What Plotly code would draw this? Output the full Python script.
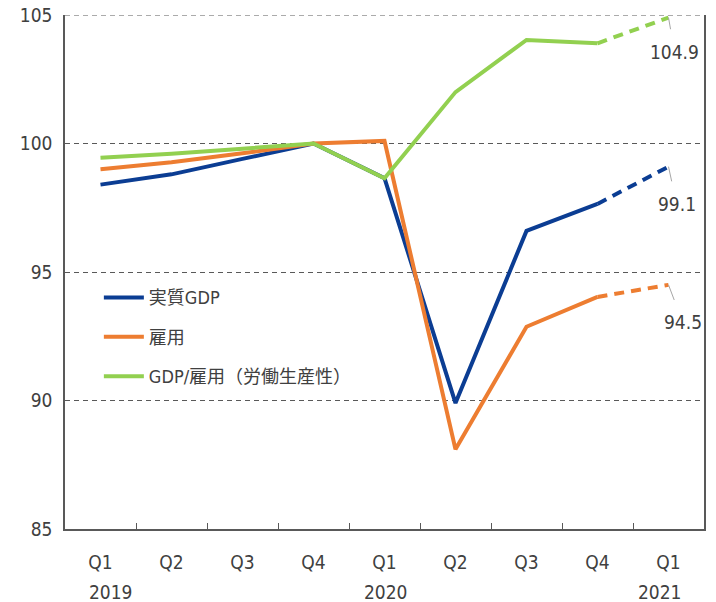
import plotly.graph_objects as go

categories = ["2019Q1", "2019Q2", "2019Q3", "2019Q4", "2020Q1", "2020Q2", "2020Q3", "2020Q4", "2021Q1"]
tick_labels = ["Q1", "Q2", "Q3", "Q4", "Q1", "Q2", "Q3", "Q4", "Q1"]
year_labels = {"2019Q1": "2019", "2020Q1": "2020", "2021Q1": "2021"}

gdp = [98.4, 98.8, 99.4, 100.0, 98.65, 89.9, 96.6, 97.65, 99.1]
employment = [99.0, 99.27, 99.62, 100.0, 100.1, 88.1, 92.87, 94.03, 94.5]
productivity = [99.45, 99.6, 99.8, 100.0, 98.65, 102.0, 104.03, 103.9, 104.9]

y_min, y_max = 85, 105

names = ["実質GDP", "雇用", "GDP/雇用（労働生産性）"]
colors = ["#0B3D93", "#ED7D31", "#92D050"]
series = [gdp, employment, productivity]

FONT = "DejaVu Sans Condensed, Noto Sans, Noto Sans CJK JP, sans-serif"
TXT = "#404040"
GRID = "#595959"
FS = 19

fig = go.Figure()
for i, (name, col, vals) in enumerate(zip(names, colors, series)):
    fig.add_trace(go.Scatter(
        x=categories[:-1], y=vals[:-1], mode="lines", name=name,
        line=dict(color=col, width=4), legendgroup=f"g{i}",
    ))
for i, (name, col, vals) in enumerate(zip(names, colors, series)):
    fig.add_trace(go.Scatter(
        x=categories[-2:], y=vals[-2:], mode="lines", name=name,
        line=dict(color=col, width=4, dash="10px,7px"), showlegend=False,
        legendgroup=f"g{i}",
    ))

# dashed gridline at the top of the range (plotly drops edge gridlines)
fig.add_shape(type="line", xref="paper", x0=0, x1=1, yref="y", y0=y_max, y1=y_max,
              line=dict(color=GRID, width=1.2, dash="5px,4px"), layer="below")

# end-value labels with leader lines
offsets = [(8, 37), (14, 37), (6, 34)]
for vals, (ax, ay) in zip(series, offsets):
    fig.add_annotation(
        x=categories[-1], y=vals[-1], text=f"{vals[-1]:.1f}",
        showarrow=True, arrowhead=0, arrowwidth=1, arrowcolor="#A6A6A6",
        ax=ax, ay=ay, standoff=0, startstandoff=10,
        font=dict(family=FONT, size=FS, color=TXT),
    )

# year labels
shifts = {"2019Q1": 10, "2020Q1": 1, "2021Q1": -9}
for cat, yr in year_labels.items():
    fig.add_annotation(
        x=cat, y=0, yref="paper", text=yr, showarrow=False,
        xshift=shifts[cat], yshift=-63, yanchor="middle",
        font=dict(family=FONT, size=FS, color=TXT),
    )

fig.update_layout(
    width=716, height=602,
    margin=dict(l=65, r=12, t=15, b=73),
    paper_bgcolor="white", plot_bgcolor="white",
    font=dict(family=FONT, size=FS, color=TXT),
    showlegend=True,
    legend=dict(
        x=0.053, y=0.486, xanchor="left", yanchor="top",
        bgcolor="rgba(0,0,0,0)", font=dict(family=FONT, size=18, color=TXT),
        tracegroupgap=13, itemwidth=40,
    ),
    xaxis=dict(
        type="category", categoryorder="array", categoryarray=categories,
        tickmode="array", tickvals=categories, ticktext=tick_labels,
        range=[-0.5, 8.5], showgrid=False, showline=True, automargin=False,
        linecolor=GRID, linewidth=1.5, ticks="inside", tickson="boundaries",
        ticklen=6, tickcolor=GRID, tickwidth=1.3, ticklabelstandoff=15,
        tickfont=dict(family=FONT, size=FS, color=TXT), zeroline=False,
    ),
    yaxis=dict(
        range=[y_min, y_max], dtick=5, tick0=y_min, showgrid=True, gridcolor=GRID,
        gridwidth=1.2, griddash="5px,4px", showline=True, mirror=True,
        linecolor=GRID, linewidth=1.5, ticks="", zeroline=False,
        automargin=False, ticklabeloverflow="allow",
        ticklabelstandoff=7, tickfont=dict(family=FONT, size=FS, color=TXT),
    ),
)

fig.write_html("out.html", config={"displayModeBar": False},
               post_script="document.body.style.margin='0';")
